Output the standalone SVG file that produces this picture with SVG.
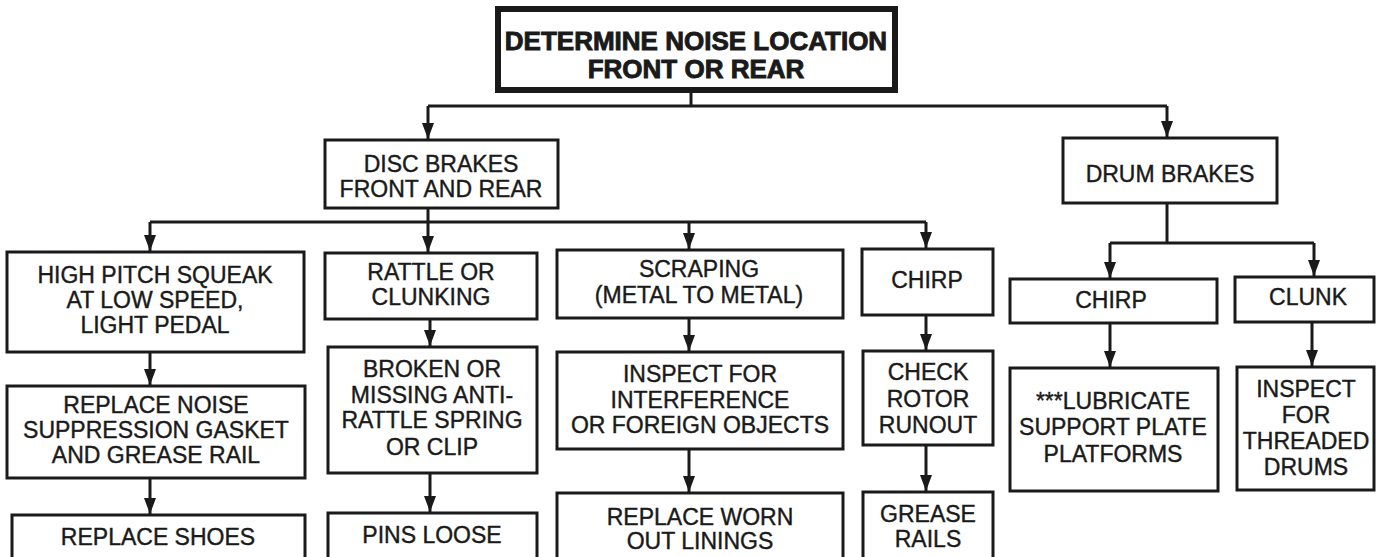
<svg xmlns="http://www.w3.org/2000/svg" width="1377" height="557" viewBox="0 0 1377 557">
<style>
.box{fill:#fff;stroke:#1a1a1a;stroke-width:3}
.top{stroke-width:6}
.t{font-family:"Liberation Sans",Arial,sans-serif;font-size:23px;fill:#1a1a1a;text-anchor:middle;stroke:#1a1a1a;stroke-width:0.4}
.tb{font-weight:bold;font-size:26px;stroke-width:0.9}
.c{stroke:#1a1a1a;stroke-width:3;fill:none}
.ca{stroke:#1a1a1a;stroke-width:3;fill:none;marker-end:url(#ah)}
</style>
<defs>
<marker id="ah" viewBox="0 0 16 12" refX="16" refY="6" markerWidth="16" markerHeight="12" markerUnits="userSpaceOnUse" orient="auto">
<path d="M0,0 L16,6 L0,12 z" fill="#1a1a1a"/>
</marker>
</defs>
<rect width="1377" height="557" fill="#fff"/>
<g id="connectors">
<path class="c" d="M691,90 V106"/>
<path class="c" d="M428,106 H1167"/>
<path class="ca" d="M428,106 V139"/>
<path class="ca" d="M1167,106 V137"/>
<path class="ca" d="M428,208 V252"/>
<path class="c" d="M150,222 H926"/>
<path class="ca" d="M150,222 V251"/>
<path class="ca" d="M689,222 V249"/>
<path class="ca" d="M926,222 V248"/>
<path class="ca" d="M150,352 V385"/>
<path class="ca" d="M150,478 V514"/>
<path class="ca" d="M430,319 V346"/>
<path class="ca" d="M430,473 V512"/>
<path class="ca" d="M689,318 V351"/>
<path class="ca" d="M689,449 V492"/>
<path class="ca" d="M926,315 V350"/>
<path class="ca" d="M926,445 V491"/>
<path class="c" d="M1167,203 V243"/>
<path class="c" d="M1110,243 H1314"/>
<path class="ca" d="M1110,243 V278"/>
<path class="ca" d="M1314,243 V276"/>
<path class="ca" d="M1110,323 V367"/>
<path class="ca" d="M1312,322 V366"/>
</g>
<g id="n-top">
<rect class="box top" x="498" y="9" width="397" height="81"/>
<text class="t tb" x="696" y="50">DETERMINE NOISE LOCATION</text>
<text class="t tb" x="696" y="78">FRONT OR REAR</text>
</g>
<g id="n-disc">
<rect class="box" x="325" y="140" width="233" height="68"/>
<text class="t" x="441" y="172">DISC BRAKES</text>
<text class="t" x="441" y="197">FRONT AND REAR</text>
</g>
<g id="n-drum">
<rect class="box" x="1063" y="138" width="214" height="65"/>
<text class="t" x="1170" y="182">DRUM BRAKES</text>
</g>
<g id="n-squeak">
<rect class="box" x="7" y="252" width="297" height="100"/>
<text class="t" x="155" y="283">HIGH PITCH SQUEAK</text>
<text class="t" x="155" y="308">AT LOW SPEED,</text>
<text class="t" x="155" y="333">LIGHT PEDAL</text>
</g>
<g id="n-gasket">
<rect class="box" x="7" y="386" width="298" height="92"/>
<text class="t" x="156" y="413">REPLACE NOISE</text>
<text class="t" x="156" y="438">SUPPRESSION GASKET</text>
<text class="t" x="156" y="463">AND GREASE RAIL</text>
</g>
<g id="n-shoes">
<rect class="box" x="12" y="515" width="293" height="60"/>
<text class="t" x="158" y="545">REPLACE SHOES</text>
</g>
<g id="n-rattle">
<rect class="box" x="325" y="253" width="212" height="66"/>
<text class="t" x="431" y="280">RATTLE OR</text>
<text class="t" x="431" y="305">CLUNKING</text>
</g>
<g id="n-broken">
<rect class="box" x="328" y="347" width="209" height="126"/>
<text class="t" x="432" y="377">BROKEN OR</text>
<text class="t" x="432" y="403">MISSING ANTI-</text>
<text class="t" x="432" y="428">RATTLE SPRING</text>
<text class="t" x="432" y="455">OR CLIP</text>
</g>
<g id="n-pins">
<rect class="box" x="328" y="513" width="209" height="60"/>
<text class="t" x="432" y="543">PINS LOOSE</text>
</g>
<g id="n-scraping">
<rect class="box" x="557" y="250" width="286" height="68"/>
<text class="t" x="699" y="277">SCRAPING</text>
<text class="t" x="699" y="303">(METAL TO METAL)</text>
</g>
<g id="n-inspect">
<rect class="box" x="557" y="352" width="286" height="97"/>
<text class="t" x="700" y="382">INSPECT FOR</text>
<text class="t" x="700" y="408">INTERFERENCE</text>
<text class="t" x="700" y="433">OR FOREIGN OBJECTS</text>
</g>
<g id="n-linings">
<rect class="box" x="557" y="493" width="286" height="80"/>
<text class="t" x="700" y="525">REPLACE WORN</text>
<text class="t" x="700" y="549">OUT LININGS</text>
</g>
<g id="n-chirp1">
<rect class="box" x="862" y="249" width="131" height="66"/>
<text class="t" x="927" y="288">CHIRP</text>
</g>
<g id="n-rotor">
<rect class="box" x="863" y="351" width="130" height="94"/>
<text class="t" x="928" y="380">CHECK</text>
<text class="t" x="928" y="407">ROTOR</text>
<text class="t" x="928" y="433">RUNOUT</text>
</g>
<g id="n-rails">
<rect class="box" x="863" y="492" width="130" height="80"/>
<text class="t" x="928" y="522">GREASE</text>
<text class="t" x="928" y="547">RAILS</text>
</g>
<g id="n-chirp2">
<rect class="box" x="1010" y="279" width="207" height="44"/>
<text class="t" x="1111" y="308">CHIRP</text>
</g>
<g id="n-clunk">
<rect class="box" x="1235" y="277" width="139" height="45"/>
<text class="t" x="1308" y="305">CLUNK</text>
</g>
<g id="n-lubricate">
<rect class="box" x="1010" y="368" width="208" height="123"/>
<text class="t" x="1113" y="409">***LUBRICATE</text>
<text class="t" x="1113" y="435">SUPPORT PLATE</text>
<text class="t" x="1113" y="462">PLATFORMS</text>
</g>
<g id="n-threaded">
<rect class="box" x="1237" y="367" width="137" height="123"/>
<text class="t" x="1306" y="397">INSPECT</text>
<text class="t" x="1306" y="423">FOR</text>
<text class="t" x="1306" y="449">THREADED</text>
<text class="t" x="1306" y="475">DRUMS</text>
</g>
</svg>
